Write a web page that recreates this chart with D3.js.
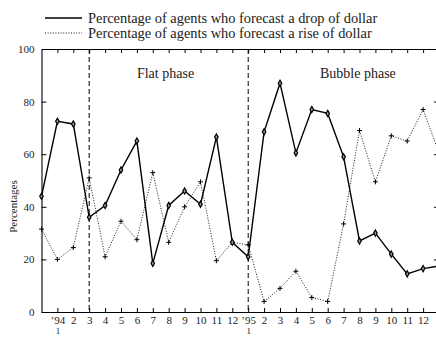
<!DOCTYPE html>
<html>
<head>
<meta charset="utf-8">
<script src="https://cdn.jsdelivr.net/npm/d3@7"></script>
<style>
  html, body { margin: 0; padding: 0; background: #fff; }
  svg { display: block; }
  text { font-family: "Liberation Serif", "DejaVu Serif", serif; fill: #222; }
</style>
</head>
<body>
<svg id="chart" width="436" height="337"></svg>
<script>
// ---- data ----
const monthIndex = d3.range(0, 26); // 0 = Dec '93 ... 25 = Jan '96
const tickLabels = ["", "’94", "2", "3", "4", "5", "6", "7", "8", "9", "10", "11", "12",
                    "’95", "2", "3", "4", "5", "6", "7", "8", "9", "10", "11", "12", ""];
const subLabels = {1: "1", 13: "1"};
const dropSeries = [44, 72.5, 71.5, 36, 40.5, 54, 65, 18.5, 40.5, 46, 41, 66.5, 26.5,
                    21, 68.5, 87, 60.5, 77, 75.5, 59, 27, 30, 22, 14.5, 16.5, 17.5];
const riseSeries = [31.5, 20, 24.5, 51, 21, 34.5, 27.5, 53, 26.5, 40, 49.5, 19.5, 26.5,
                    25.5, 4, 9, 15.5, 5.5, 4, 33.5, 69, 49.5, 67, 65, 77, 60.5];
const yTicks = [0, 20, 40, 60, 80, 100];
const phaseBreaks = [3, 13];
const phaseLabels = [{label: "Flat phase", at: 7.8}, {label: "Bubble phase", at: 19.9}];
const legendLabels = ["Percentage of agents who forecast a drop of dollar",
                      "Percentage of agents who forecast a rise of dollar"];

// ---- layout ----
const svg = d3.select("#chart");
const x = d3.scaleLinear().domain([0, 25]).range([41.5, 439]);
const y = d3.scaleLinear().domain([0, 100]).range([312, 49]);

// axes
const gx = svg.append("g").attr("transform", `translate(0,${y(0)})`)
  .call(d3.axisBottom(x).tickValues(d3.range(1, 26)).tickSize(-4).tickSizeOuter(0)
    .tickPadding(4).tickFormat(i => tickLabels[i]));
svg.selectAll(".tick text").attr("font-size", 11);
gx.selectAll(".tick").each(function(i) {
  if (subLabels[i]) {
    d3.select(this).append("text").attr("y", 4).attr("dy", "0.71em")
      .attr("font-size", 9).attr("text-anchor", "middle").attr("fill", "#222")
      .attr("transform", "translate(0,11.5)").text(subLabels[i]);
  }
});
svg.append("g").attr("transform", `translate(0,${y(100)})`)
  .call(d3.axisTop(x).tickValues(d3.range(1, 26)).tickSize(-4).tickSizeOuter(0).tickFormat(""));
svg.append("g").attr("transform", `translate(${x(0)},0)`)
  .call(d3.axisLeft(y).tickValues(yTicks).tickSize(-5).tickSizeOuter(0).tickPadding(7))
  .selectAll(".tick text").attr("font-size", 11);
svg.append("g").attr("transform", `translate(${x(25)},0)`)
  .call(d3.axisRight(y).tickValues(yTicks).tickSize(-5).tickSizeOuter(0).tickFormat(""));
svg.selectAll(".tick text").attr("font-family", "Liberation Serif").attr("fill", "#222");
svg.selectAll(".domain").attr("stroke", "#000").attr("stroke-width", 1.1);
svg.selectAll(".tick line").attr("stroke", "#000");

// y label
svg.append("text").attr("transform", `translate(17,${(y(0) + y(100)) / 2 + 26}) rotate(-90)`)
  .attr("text-anchor", "middle").attr("font-size", 11).text("Percentages");

// phase separators
svg.selectAll(".phase").data(phaseBreaks).join("line")
  .attr("x1", d => x(d)).attr("x2", d => x(d))
  .attr("y1", y(100)).attr("y2", y(0))
  .attr("stroke", "#000").attr("stroke-width", 1).attr("stroke-dasharray", "5,3");
svg.selectAll(".plabel").data(phaseLabels).join("text")
  .attr("x", d => x(d.at)).attr("y", 78).attr("text-anchor", "middle")
  .attr("font-size", 14).text(d => d.label);

// lines
const line = d3.line().x((d, i) => x(monthIndex[i])).y(d => y(d));
svg.append("path").datum(riseSeries).attr("d", line)
  .attr("fill", "none").attr("stroke", "#000").attr("stroke-width", 0.9).attr("stroke-dasharray", "1,1.6");
svg.append("path").datum(dropSeries).attr("d", line)
  .attr("fill", "none").attr("stroke", "#000").attr("stroke-width", 1.4);

// markers
svg.selectAll(".plus").data(riseSeries).join("path")
  .attr("d", (d, i) => {
    const cx = x(monthIndex[i]), cy = y(d);
    return `M${cx - 2.5},${cy}H${cx + 2.5}M${cx},${cy - 2.5}V${cy + 2.5}`;
  })
  .attr("stroke", "#000").attr("stroke-width", 1);
const diamond = d3.symbol().type(d3.symbolDiamond).size(11);
svg.selectAll(".dot").data(dropSeries).join("path")
  .attr("transform", (d, i) => `translate(${x(monthIndex[i])},${y(d)})`)
  .attr("d", diamond)
  .attr("fill", "#999").attr("stroke", "#000").attr("stroke-width", 1.2);

// legend
const leg = svg.append("g");
legendLabels.forEach((t, k) => {
  const ly = 18 + k * 15;
  leg.append("line").attr("x1", 45).attr("x2", 82).attr("y1", ly).attr("y2", ly)
    .attr("stroke", "#000").attr("stroke-width", k === 0 ? 1.4 : 0.9)
    .attr("stroke-dasharray", k === 0 ? null : "1,1.6");
  leg.append("text").attr("x", 88).attr("y", ly + 4.5).attr("font-size", 14.4).text(t);
});
</script>
</body>
</html>
